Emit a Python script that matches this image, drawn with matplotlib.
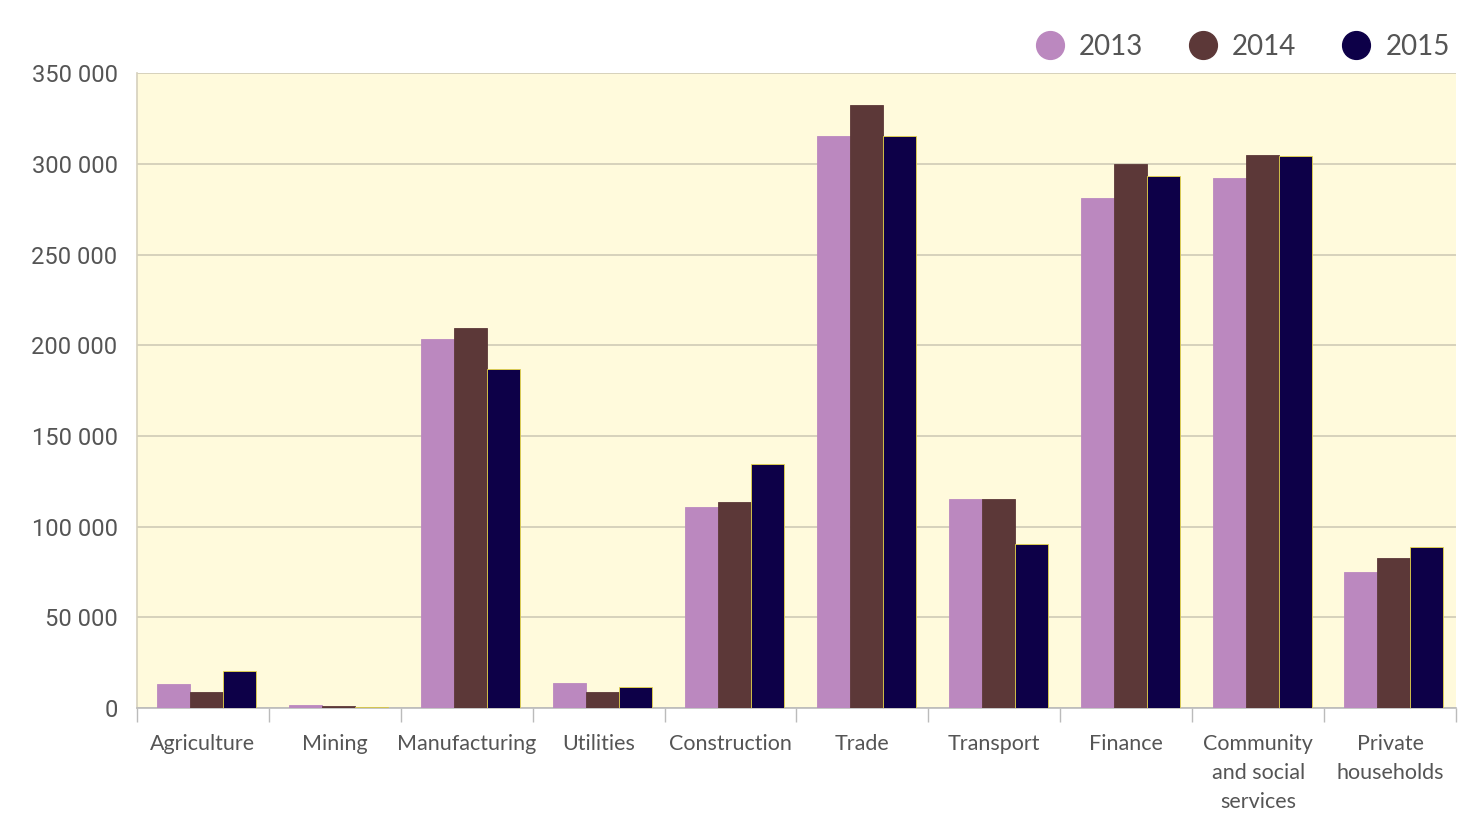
import matplotlib
matplotlib.use("Agg")
import matplotlib.pyplot as plt
import numpy as np
from matplotlib.lines import Line2D
from matplotlib.ticker import FuncFormatter

# 各行业就业人数（2013-2015）
sectors = ["Agriculture", "Mining", "Manufacturing", "Utilities", "Construction",
           "Trade", "Transport", "Finance", "Community\nand social\nservices",
           "Private\nhouseholds"]
years = ["2013", "2014", "2015"]
v2013 = [13300, 1500, 203300, 13500, 111000, 315500, 115000, 281200, 292300, 75100]
v2014 = [8800, 1200, 209400, 9000, 113800, 332600, 115500, 300000, 305000, 82900]
v2015 = [20400, 800, 186700, 11500, 134800, 315500, 90600, 293400, 304400, 89000]
yticks = [0, 50000, 100000, 150000, 200000, 250000, 300000, 350000]

colors = ["#BB88BF", "#5C3838", "#0D0048"]
series = [v2013, v2014, v2015]

fig = plt.figure(figsize=(14.84, 8.16), dpi=100)
ax = fig.add_axes([0.0923, 0.1324, 0.8888, 0.7776])
ax.set_facecolor("#FFFADC")

x = np.arange(len(sectors))
w = 0.25
for i, (vals, c) in enumerate(zip(series, colors)):
    ax.bar(x + (i - 1) * w + 0.03, vals, width=w, color=c, zorder=3,
           edgecolor="#E8D84A" if i == 2 else c, linewidth=0.6)

ax.set_xlim(-0.5, len(sectors) - 0.5)
ax.set_ylim(0, 350000)
ax.set_yticks(yticks)
ax.yaxis.set_major_formatter(FuncFormatter(lambda v, p: f"{int(v):,}".replace(",", " ")))
ax.grid(axis="y", color="#CFCBB6", linewidth=1.2, zorder=1)
ax.tick_params(axis="y", length=0, pad=14, labelsize=17, labelcolor="#555555")
for lab in ax.get_yticklabels():
    lab.set_family(["Roboto", "DejaVu Sans"])

ax.set_xticks(x)
ax.set_xticklabels(sectors, fontsize=15.5, color="#555555", family=["Lato", "DejaVu Sans"],
                   linespacing=1.55, va="top")
ax.tick_params(axis="x", length=0, pad=19)
# 类别分隔刻度
ax.set_xticks(np.arange(len(sectors) + 1) - 0.5, minor=True)
ax.tick_params(axis="x", which="minor", length=10, color="#BBBBBB", width=1)

for s in ["top", "right"]:
    ax.spines[s].set_visible(False)
ax.spines["left"].set_color("#D5D0BC")
ax.spines["bottom"].set_color("#BBBBBB")
ax.spines["left"].set_linewidth(1.2)
ax.spines["bottom"].set_linewidth(1.2)

handles = [Line2D([], [], marker="o", linestyle="none", markersize=20,
                  markerfacecolor=c, markeredgecolor=c) for c in colors]
leg = ax.legend(handles, years, loc="lower right", bbox_to_anchor=(1.008, 0.995),
                ncol=3, frameon=False, fontsize=20, handletextpad=0.05,
                columnspacing=1.15, borderaxespad=0.2)
for t in leg.get_texts():
    t.set_color("#555555")
    t.set_family(["Lato", "DejaVu Sans"])

fig.savefig("out.png", dpi=100, facecolor="white")
